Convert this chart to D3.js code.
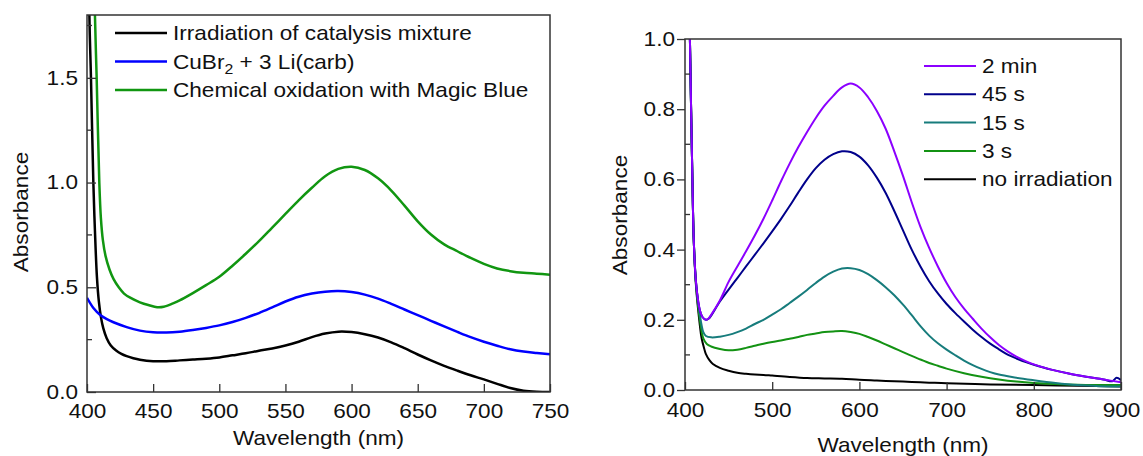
<!DOCTYPE html>
<html>
<head>
<meta charset="utf-8">
<script src="https://cdn.jsdelivr.net/npm/d3@7"></script>
<style>
  body { margin: 0; background: #fff; }
  text { font-family: "Liberation Sans", Arial, sans-serif; fill: #111; }
</style>
</head>
<body>
<div id="chart"></div>
<script>
// ---- data: [wavelength (nm), absorbance] ----
// left panel
var irradiationMix = [[400,3.0],[401.8,1.8],[403,1.5],[404.8,1.0],[406,0.77],[407.5,0.55],[409,0.43],[410.6,0.355],[412.3,0.305],[414.8,0.258],[418,0.222],[422,0.198],[426,0.182],[430,0.171],[435,0.161],[440,0.154],[450,0.147],[460,0.147],[470,0.151],[480,0.155],[490,0.159],[500,0.165],[510,0.175],[520,0.185],[530,0.197],[540,0.208],[550,0.222],[560,0.24],[570,0.262],[580,0.279],[590,0.288],[600,0.286],[610,0.276],[620,0.26],[630,0.237],[640,0.209],[650,0.179],[660,0.151],[670,0.125],[680,0.102],[690,0.08],[700,0.06],[710,0.039],[720,0.019],[730,0.006],[740,0.001],[750,0.0]]
var cuBr2Carb = [[400,0.45],[405,0.4],[410,0.368],[415,0.348],[420,0.333],[430,0.31],[440,0.293],[450,0.285],[460,0.284],[470,0.288],[480,0.296],[490,0.306],[500,0.318],[510,0.334],[520,0.354],[530,0.377],[540,0.404],[550,0.432],[560,0.455],[570,0.47],[580,0.479],[590,0.482],[600,0.477],[610,0.465],[620,0.446],[630,0.421],[640,0.394],[650,0.367],[660,0.34],[670,0.313],[680,0.287],[690,0.262],[700,0.24],[710,0.221],[720,0.204],[730,0.193],[740,0.186],[750,0.18]]
var magicBlue = [[400,4.0],[406,1.8],[407.3,1.5],[409.3,1.0],[410.5,0.83],[412,0.725],[414,0.65],[417,0.585],[420,0.54],[424,0.5],[428,0.47],[433,0.449],[440,0.428],[447,0.414],[453,0.405],[458,0.407],[465,0.423],[470,0.437],[480,0.472],[490,0.51],[500,0.55],[510,0.603],[520,0.66],[530,0.72],[540,0.785],[550,0.85],[560,0.915],[570,0.975],[580,1.03],[590,1.065],[600,1.075],[610,1.06],[620,1.02],[630,0.962],[640,0.89],[650,0.815],[660,0.752],[670,0.705],[680,0.672],[690,0.64],[700,0.612],[710,0.59],[720,0.577],[730,0.569],[740,0.565],[750,0.56]]

// right panel
var min2 = [[400,3.0],[404,1.25],[405.5,1.02],[407,0.8],[408.5,0.6],[410,0.43],[412.5,0.31],[415,0.255],[417,0.228],[420,0.208],[424,0.2],[427,0.204],[430,0.214],[440,0.255],[450,0.308],[460,0.352],[470,0.395],[480,0.44],[490,0.488],[500,0.54],[510,0.594],[520,0.645],[530,0.692],[540,0.735],[550,0.775],[560,0.81],[570,0.838],[580,0.862],[590,0.873],[600,0.862],[610,0.834],[620,0.795],[630,0.745],[640,0.68],[650,0.61],[660,0.535],[670,0.465],[680,0.405],[690,0.352],[700,0.305],[710,0.265],[720,0.232],[730,0.203],[740,0.175],[750,0.15],[760,0.128],[770,0.11],[780,0.095],[790,0.083],[800,0.073],[820,0.058],[840,0.047],[860,0.038],[880,0.03],[900,0.022]]
var s45 = [[400,3.0],[404,1.25],[405.5,1.02],[407,0.8],[408.5,0.6],[410,0.43],[412.5,0.31],[415,0.255],[417,0.228],[420,0.208],[424,0.2],[427,0.203],[430,0.212],[440,0.252],[450,0.286],[460,0.319],[470,0.352],[480,0.385],[490,0.418],[500,0.452],[510,0.487],[520,0.524],[530,0.563],[540,0.6],[550,0.632],[560,0.656],[570,0.672],[580,0.68],[590,0.678],[600,0.665],[610,0.64],[620,0.605],[630,0.562],[640,0.51],[650,0.455],[660,0.4],[670,0.352],[680,0.31],[690,0.275],[700,0.245],[710,0.219],[720,0.195],[730,0.172],[740,0.151],[750,0.132],[760,0.116],[770,0.101],[780,0.09],[790,0.08],[800,0.072],[820,0.058],[840,0.047],[860,0.038],[880,0.03],[890,0.025],[895,0.035],[900,0.028]]
var s15 = [[400,3.0],[404,1.25],[405.5,1.02],[407,0.8],[408.5,0.6],[410,0.43],[412.5,0.31],[415,0.25],[417,0.215],[419,0.185],[421,0.165],[424,0.154],[430,0.15],[440,0.152],[450,0.157],[460,0.165],[470,0.175],[480,0.188],[490,0.2],[500,0.215],[510,0.23],[520,0.248],[530,0.266],[540,0.285],[550,0.305],[560,0.323],[570,0.337],[580,0.346],[590,0.347],[600,0.342],[610,0.33],[620,0.313],[630,0.293],[640,0.27],[650,0.243],[660,0.213],[670,0.182],[680,0.155],[690,0.133],[700,0.115],[710,0.099],[720,0.084],[730,0.071],[740,0.06],[750,0.051],[760,0.044],[775,0.037],[800,0.028],[825,0.02],[850,0.014],[875,0.011],[900,0.01]]
var s3 = [[400,3.0],[404,1.25],[405.5,1.02],[407,0.8],[408.5,0.6],[410,0.43],[412.5,0.305],[415,0.24],[417,0.2],[419,0.168],[421,0.147],[425,0.131],[430,0.124],[440,0.117],[450,0.113],[460,0.115],[470,0.12],[480,0.126],[490,0.132],[500,0.137],[510,0.141],[520,0.146],[530,0.151],[540,0.157],[550,0.161],[560,0.165],[570,0.167],[580,0.168],[590,0.165],[600,0.16],[610,0.151],[620,0.141],[630,0.13],[640,0.119],[650,0.108],[660,0.097],[670,0.087],[680,0.077],[690,0.069],[700,0.061],[720,0.048],[740,0.038],[760,0.03],[780,0.024],[800,0.02],[850,0.015],[900,0.014]]
var noIrradiation = [[400,3.0],[404,1.25],[405.5,1.02],[407,0.8],[408.5,0.6],[410,0.43],[412.5,0.3],[415,0.23],[417,0.185],[419,0.148],[422,0.118],[424,0.102],[428,0.085],[432,0.074],[440,0.063],[450,0.055],[460,0.049],[470,0.046],[480,0.044],[490,0.043],[500,0.041],[520,0.037],[540,0.034],[560,0.033],[580,0.032],[600,0.029],[620,0.027],[640,0.025],[660,0.023],[680,0.021],[700,0.019],[750,0.016],[800,0.014],[850,0.012],[900,0.01]]

var leftNames = ['Irradiation of catalysis mixture', 'CuBr2 + 3 Li(carb)', 'Chemical oxidation with Magic Blue']
var leftColors = ['#000000', '#0000ff', '#119611']
var rightNames = ['2 min', '45 s', '15 s', '3 s', 'no irradiation']
var rightColors = ['#8b00ff', '#00008b', '#177c7c', '#139213', '#000000']

var leftXTicks = [400, 450, 500, 550, 600, 650, 700, 750]
var leftYTicks = [0, 0.5, 1.0, 1.5]
var leftYMinor = [0.25, 0.75, 1.25, 1.75]
var rightXTicks = [400, 500, 600, 700, 800, 900]
var rightYTicks = [0, 0.2, 0.4, 0.6, 0.8, 1.0]
var rightYMinor = [0.1, 0.3, 0.5, 0.7, 0.9]

// ---- layout ----
var W = 1143, H = 456
var FS = 20, SX = 1.13   // font is wider than Liberation Sans

var svg = d3.select('#chart').append('svg').attr('width', W).attr('height', H)

function stretchText(sel, x, y, rot) {
  sel.attr('transform', 'translate(' + x + ',' + y + ')' + (rot ? ' rotate(' + rot + ')' : '') + ' scale(' + SX + ',1)')
}

function panel(opt) {
  var g = svg.append('g')
  var x = d3.scaleLinear().domain(opt.xDomain).range([opt.left, opt.right])
  var y = d3.scaleLinear().domain(opt.yDomain).range([opt.bottom, opt.top])

  var clipId = 'clip' + opt.id
  svg.append('clipPath').attr('id', clipId).append('rect')
    .attr('x', opt.left).attr('y', opt.top)
    .attr('width', opt.right - opt.left).attr('height', opt.bottom - opt.top)

  // curves (drawn in the given order, last one on top)
  var line = d3.line().x(d => x(d[0])).y(d => y(d[1])).curve(d3.curveCatmullRom.alpha(0.5))
  g.append('g').attr('clip-path', 'url(#' + clipId + ')')
    .selectAll('path')
    .data(opt.drawOrder.map(i => opt.series[i]))
    .enter()
    .append('path')
    .attr('d', d => line(d.values))
    .attr('fill', 'none')
    .attr('stroke', d => d.color)
    .attr('stroke-width', opt.lineWidth)
    .attr('stroke-linejoin', 'round')

  // x axis, ticks pointing inward
  var xAxis = g.append('g')
    .attr('transform', 'translate(0,' + opt.bottom + ')')
    .call(d3.axisBottom(x).tickValues(opt.xTicks).tickSize(-8).tickPadding(opt.xPad).tickFormat(d3.format('d')))
  xAxis.select('.domain').remove()
  xAxis.selectAll('.tick line').attr('stroke', '#333').attr('stroke-width', 1.3)
  xAxis.selectAll('.tick text').attr('font-size', FS).attr('transform', 'scale(' + SX + ',1)')

  // y axis
  var yAxis = g.append('g')
    .attr('transform', 'translate(' + opt.left + ',0)')
    .call(d3.axisLeft(y).tickValues(opt.yTicks).tickSize(opt.yTickSize).tickPadding(opt.yPad).tickFormat(d3.format('.1f')))
  yAxis.select('.domain').remove()
  yAxis.selectAll('.tick line').attr('stroke', '#333').attr('stroke-width', 1.3)
  yAxis.selectAll('.tick text')
    .attr('font-size', FS)
    .attr('x', -(Math.max(opt.yTickSize, 0) + opt.yPad) / SX)
    .attr('transform', 'scale(' + SX + ',1)')

  // minor y ticks, inward
  g.selectAll('.minor' + opt.id)
    .data(opt.yMinor)
    .enter()
    .append('line')
    .attr('x1', opt.left).attr('x2', opt.left + 5)
    .attr('y1', d => y(d)).attr('y2', d => y(d))
    .attr('stroke', '#333').attr('stroke-width', 1.3)

  // frame
  g.append('rect')
    .attr('x', opt.left).attr('y', opt.top)
    .attr('width', opt.right - opt.left).attr('height', opt.bottom - opt.top)
    .attr('fill', 'none').attr('stroke', '#333').attr('stroke-width', 1.5)

  // axis titles
  g.append('text').text('Wavelength (nm)')
    .attr('font-size', FS).attr('text-anchor', 'middle')
    .call(stretchText, (opt.left + opt.right) / 2, opt.xTitleY)
  g.append('text').text('Absorbance')
    .attr('font-size', FS).attr('text-anchor', 'middle')
    .call(stretchText, opt.yTitleX, opt.yTitleY, -90)

  // legend
  var leg = g.selectAll('.legend' + opt.id)
    .data(opt.series)
    .enter()
    .append('g')
    .attr('transform', (d, i) => 'translate(0,' + (opt.legY + i * opt.legStep) + ')')
  leg.append('line')
    .attr('x1', opt.legX).attr('x2', opt.legX + 52)
    .attr('stroke', d => d.color).attr('stroke-width', opt.lineWidth)
  leg.append('text')
    .attr('font-size', FS)
    .each(function (d) {
      var t = d3.select(this)
      stretchText(t, opt.legX + 58, 7)
      if (d.name.indexOf('CuBr2') === 0) {
        t.append('tspan').text('CuBr')
        t.append('tspan').text('2').attr('font-size', 14).attr('dy', 5)
        t.append('tspan').text(' + 3 Li(carb)').attr('dy', -5)
      } else {
        t.text(d.name)
      }
    })
}

panel({
  id: 'L', left: 87, right: 550, top: 15, bottom: 392,
  xDomain: [400, 750], yDomain: [0, 1.8],
  xTicks: leftXTicks, yTicks: leftYTicks, yMinor: leftYMinor,
  yTickSize: -9, yPad: 9, xPad: 12,
  lineWidth: 2.5,
  series: [irradiationMix, cuBr2Carb, magicBlue].map((v, i) => ({ values: v, name: leftNames[i], color: leftColors[i] })),
  drawOrder: [0, 1, 2],
  xTitleY: 445, yTitleX: 28, yTitleY: 212,
  legX: 115, legY: 33, legStep: 28.5
})

panel({
  id: 'R', left: 685, right: 1121, top: 39, bottom: 390,
  xDomain: [400, 900], yDomain: [0, 1.0],
  xTicks: rightXTicks, yTicks: rightYTicks, yMinor: rightYMinor,
  yTickSize: 8, yPad: 2, xPad: 13,
  lineWidth: 2,
  series: [min2, s45, s15, s3, noIrradiation].map((v, i) => ({ values: v, name: rightNames[i], color: rightColors[i] })),
  drawOrder: [4, 3, 2, 1, 0],
  xTitleY: 452, yTitleX: 627, yTitleY: 215,
  legX: 924, legY: 66, legStep: 28.3
})
</script>
</body>
</html>
